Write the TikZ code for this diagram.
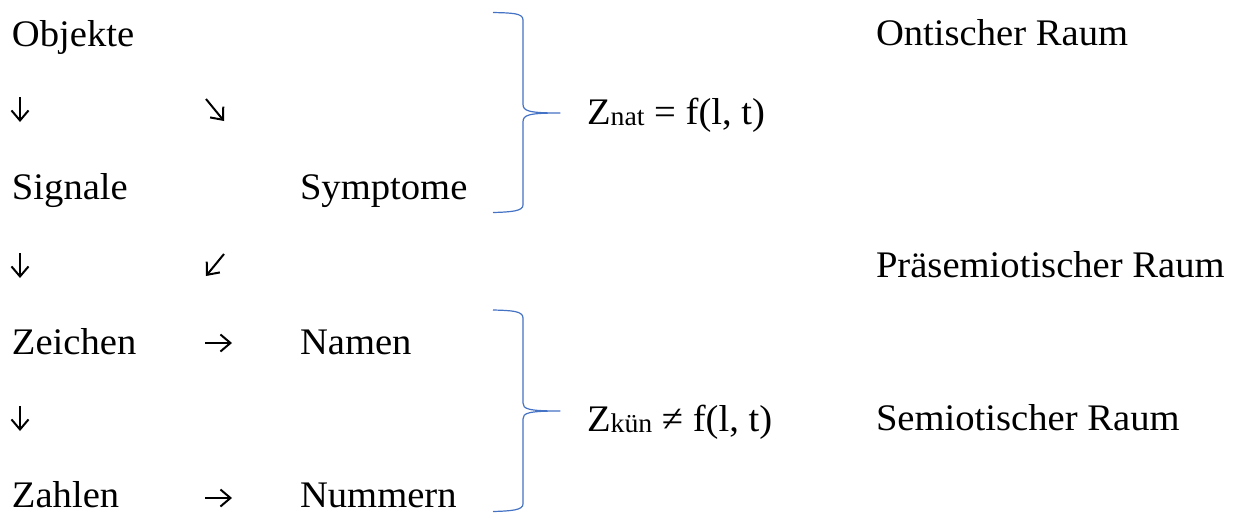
\documentclass[tikz,border=0pt]{standalone}
\usepackage{fontspec}
\usetikzlibrary{arrows.meta}
\setmainfont{Liberation Serif}[FakeStretch=1.03]
\definecolor{bracecol}{HTML}{4472C4}
\tikzset{
  txt/.style={anchor=base west, inner sep=0pt, outer sep=0pt, font=\fontsize{37.5}{40}\selectfont},
  glyph/.style={line width=2pt, -{Straight Barb[length=10pt, width=17pt, line width=2pt]}},
  bracestyle/.style={draw=bracecol, line width=1.2pt, line join=round}
}
\newcommand{\subs}[1]{\raisebox{-1.5pt}{\fontsize{27}{28}\selectfont #1}}
\begin{document}
\begin{tikzpicture}[x=1pt,y=-1pt]
\useasboundingbox (0,0) rectangle (1248,514);
% left column
\node[txt] (obj) at (12,46) {Objekte};
\node[txt] (sig) at (12,199) {Signale};
\node[txt] (sym) at (300,199) {Symptome};
\node[txt] (zei) at (12,354) {Zeichen};
\node[txt] (nam) at (300,354) {Namen};
\node[txt] (zah) at (12,507) {Zahlen};
\node[txt] (num) at (300,507) {Nummern};
% glyph arrows
\coordinate (d1s) at (20,97);  \coordinate (d1e) at (20,122);
\coordinate (d2s) at (20,253); \coordinate (d2e) at (20,278);
\coordinate (d3s) at (20,406); \coordinate (d3e) at (20,431);
\coordinate (ses) at (206,99); \coordinate (see) at (224,121);
\coordinate (sws) at (224,254); \coordinate (swe) at (206,276);
\coordinate (r1s) at (205,343); \coordinate (r1e) at (232,343);
\coordinate (r2s) at (205,498); \coordinate (r2e) at (232,498);
\draw[glyph] (d1s) -- (d1e);
\draw[glyph] (d2s) -- (d2e);
\draw[glyph] (d3s) -- (d3e);
\draw[glyph] (ses) -- (see);
\draw[glyph] (sws) -- (swe);
\draw[glyph] (r1s) -- (r1e);
\draw[glyph] (r2s) -- (r2e);
% formulas
\node[txt] (fnat) at (587,124) {Z\subs{nat} = f(l, t)};
\node[txt] (fkun) at (587,431) {Z\subs{kün} ≠ f(l, t)};
% right column
\node[txt] (ont) at (876,45) {Ontischer Raum};
\node[txt] (prae) at (876,277) {Präsemiotischer Raum};
\node[txt] (sem) at (876,430) {Semiotischer Raum};
% braces
\draw[bracestyle] (493,12.5) .. controls (512,13) and (523,13) .. (523,20)
  -- (523,104) .. controls (523,111) and (528,113) .. (560,113)
  .. controls (528,113) and (523,115) .. (523,122)
  -- (523,205) .. controls (523,211) and (512,212) .. (493,212.5);
\draw[bracestyle] (493,310) .. controls (512,310.5) and (523,311) .. (523,318)
  -- (523,403) .. controls (523,409) and (528,411) .. (560,411)
  .. controls (528,411) and (523,413) .. (523,419)
  -- (523,504) .. controls (523,510) and (512,511) .. (493,511.5);
\end{tikzpicture}
\end{document}
